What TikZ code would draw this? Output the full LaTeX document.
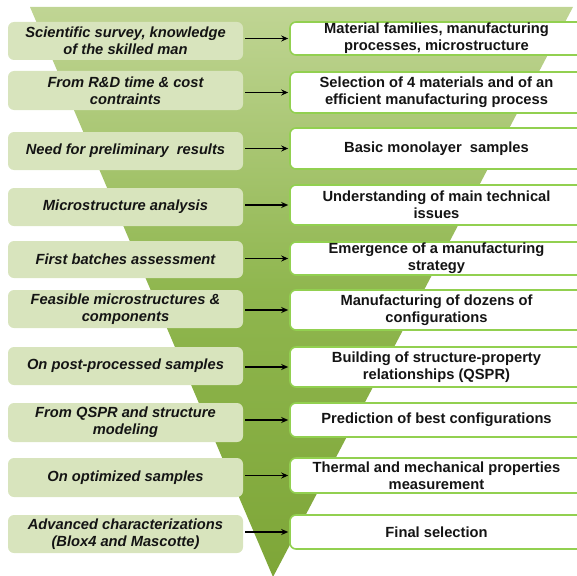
\documentclass[tikz,border=0pt]{standalone}
\usepackage{fontspec}
\setmainfont{Liberation Sans}
\usetikzlibrary{arrows.meta}
\definecolor{lfill}{RGB}{216,228,189}
\definecolor{rborder}{RGB}{146,208,80}
\definecolor{ttop}{RGB}{192,213,148}
\definecolor{tmid}{RGB}{143,182,78}
\definecolor{tbot}{RGB}{126,166,56}
\definecolor{txt}{RGB}{20,20,20}
\tikzset{
  lbox/.style={fill=lfill, rounded corners=6pt, minimum width=235pt, align=center,
    text=txt, font=\fontsize{14.7}{17}\selectfont\bfseries\itshape, inner sep=0pt},
  rbox/.style={fill=white, draw=rborder, line width=1.6pt, rounded corners=6pt,
    minimum width=293pt, align=center, text=txt,
    font=\fontsize{14.7}{17}\selectfont\bfseries, inner sep=0pt},
  arr/.style={-{Stealth[length=7pt,width=6pt]}, line width=1.2pt, black, shorten <=2pt, shorten >=1pt}
}
\begin{document}
\begin{tikzpicture}[x=1pt,y=-1pt]
\useasboundingbox (0,0) rectangle (577,575);
\clip (0,0) rectangle (577,575);
\shade[top color=ttop, bottom color=tbot, middle color=tmid] (30,7) -- (573,7) -- (273,577) -- cycle;

\node[lbox, minimum height=38pt] (l1) at (125.5,41) {Scientific survey, knowledge\\of the skilled man};
\node[lbox, minimum height=39pt] (l2) at (125.5,90.5) {From R\&D time \& cost\\contraints};
\node[lbox, minimum height=38pt] (l3) at (125.5,151) {Need for preliminary\ \ results};
\node[lbox, minimum height=38pt] (l4) at (125.5,207) {Microstructure analysis};
\node[lbox, minimum height=37pt] (l5) at (125.5,259.5) {First batches assessment};
\node[lbox, minimum height=38pt] (l6) at (125.5,309) {Feasible microstructures \&\\components};
\node[lbox, minimum height=38pt] (l7) at (125.5,366) {On post-processed samples};
\node[lbox, minimum height=39pt] (l8) at (125.5,422.5) {From QSPR and structure\\modeling};
\node[lbox, minimum height=39pt] (l9) at (125.5,477.5) {On optimized samples};
\node[lbox, minimum height=38pt] (l10) at (125.5,534) {Advanced characterizations\\(Blox4 and Mascotte)};

\node[rbox, minimum height=33pt] (r1) at (436.5,38.5) {Material families, manufacturing\\processes, microstructure};
\node[rbox, minimum height=41pt] (r2) at (436.5,92.5) {Selection of 4 materials and of an\\efficient manufacturing process};
\node[rbox, minimum height=41pt] (r3) at (436.5,148.5) {Basic monolayer\ \ samples};
\node[rbox, minimum height=40pt] (r4) at (436.5,205) {Understanding of main technical\\issues};
\node[rbox, minimum height=33pt] (r5) at (436.5,258.5) {Emergence of a manufacturing\\strategy};
\node[rbox, minimum height=40pt] (r6) at (436.5,310) {Manufacturing of dozens of\\configurations};
\node[rbox, minimum height=40pt] (r7) at (436.5,367) {Building of structure-property\\relationships (QSPR)};
\node[rbox, minimum height=34pt] (r8) at (436.5,420) {Prediction of best configurations};
\node[rbox, minimum height=35pt] (r9) at (436.5,475.5) {Thermal and mechanical properties\\measurement};
\node[rbox, minimum height=34pt] (r10) at (436.5,532) {Final selection};

\foreach \i in {1,...,10}{
  \draw[arr] (l\i.east |- r\i.west) -- (r\i.west);
}
\end{tikzpicture}
\end{document}
